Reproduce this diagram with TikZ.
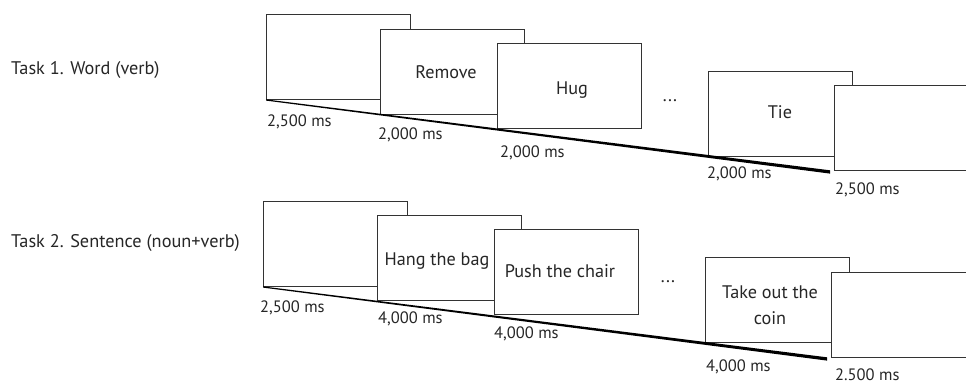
\documentclass[tikz,border=0pt]{standalone}
\usepackage{fontspec}
\setmainfont{PT Sans}
\begin{document}
\begin{tikzpicture}[x=1pt,y=-1pt,
  frame/.style={draw=black!80, line width=1pt, fill=white,
    minimum width=144pt, minimum height=85pt, inner sep=0pt, anchor=north west},
  word/.style={font=\fontsize{18.2}{26}\selectfont, inner sep=0pt, text=black!85, align=center},
  dur/.style={font=\fontsize{16.5}{18}\selectfont, anchor=west, inner sep=0pt, text=black!85},
  task/.style={font=\fontsize{18.3}{20}\selectfont, anchor=west, inner sep=0pt, text=black!85},
  timeline/.style={fill=black}]
\useasboundingbox (0,0) rectangle (966,380);
\clip (0,0) rectangle (966,380);

% ---------- Task 1 ----------
\node[task] (t1) at (11,70) {Task 1. Word (verb)};
\node[frame] (a1) at (266,14) {};
\node[frame] (a2) at (380,29) {};
\node[frame] (a3) at (497,43) {};
\node[frame] (a4) at (708,71) {};
\node[frame] (a5) at (834,85) {};
\fill[timeline] ([shift={(0,-0.6)}]a1.south west) -- ([shift={(-4,-0.7)}]a5.south west)
  -- ([shift={(-4,2.6)}]a5.south west) -- ([shift={(0,0.6)}]a1.south west) -- cycle;
\node[word] (w2) at (446,72) {Remove};
\node[word] (w3) at (572,90) {Hug};
\node[word] (d1) at (670,101) {...};
\node[word] (w4) at (780,112) {Tie};
\node[dur] (l1) at (267,122) {2,500 ms};
\node[dur] (l2) at (378,135) {2,000 ms};
\node[dur] (l3) at (500,153) {2,000 ms};
\node[dur] (l4) at (707,174) {2,000 ms};
\node[dur] (l5) at (835,190) {2,500 ms};

% ---------- Task 2 ----------
\node[task] (t2) at (11,243) {Task 2. Sentence (noun+verb)};
\node[frame] (b1) at (263,201) {};
\node[frame] (b2) at (377,215) {};
\node[frame] (b3) at (494,229) {};
\node[frame] (b4) at (705,257) {};
\node[frame] (b5) at (831,272) {};
\fill[timeline] ([shift={(0,-0.6)}]b1.south west) -- ([shift={(-4,-0.7)}]b5.south west)
  -- ([shift={(-4,2.6)}]b5.south west) -- ([shift={(0,0.6)}]b1.south west) -- cycle;
\node[word] (v2) at (437,261) {Hang the bag};
\node[word] (v3) at (560,271) {Push the chair};
\node[word] (d2) at (668,282) {...};
\node[word] (v4) at (770,305) {Take out the\\coin};
\node[dur] (m1) at (260,308) {2,500 ms};
\node[dur] (m2) at (378,319) {4,000 ms};
\node[dur] (m3) at (494,334) {4,000 ms};
\node[dur] (m4) at (706,367) {4,000 ms};
\node[dur] (m5) at (835,375) {2.500 ms};
\end{tikzpicture}
\end{document}
